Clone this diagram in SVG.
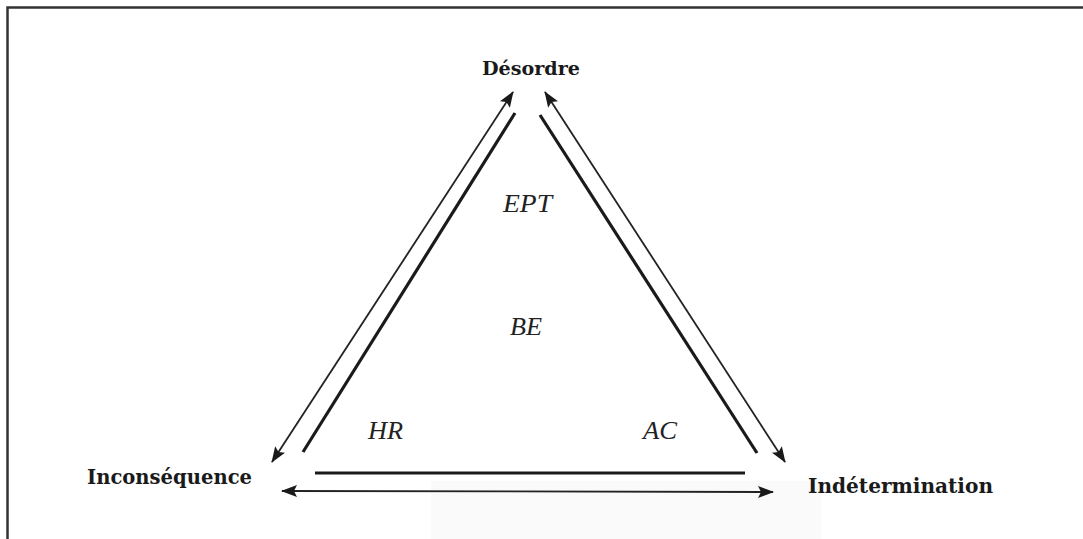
<svg xmlns="http://www.w3.org/2000/svg" width="1083" height="539" viewBox="0 0 1083 539">
<style>
.bold{font-family:"DejaVu Serif","Liberation Serif",serif;font-weight:bold;fill:#1a1a1a}
.ital{font-family:"Liberation Serif","Times New Roman",serif;font-style:italic;fill:#222;font-size:25px}
.thin{stroke:#222;stroke-width:1.8;fill:none}
.thick{stroke:#1a1a1a;stroke-width:3.2;fill:none}
</style>
<defs>
<marker id="ah" viewBox="0 0 16 12" refX="15" refY="6" markerWidth="16" markerHeight="12" markerUnits="userSpaceOnUse" orient="auto-start-reverse">
<path d="M0,0 L16,6 L0,12 L3,6 Z" fill="#1a1a1a"/>
</marker>
</defs>
<rect x="0" y="0" width="1083" height="539" fill="#fff"/>
<rect x="431" y="481" width="390" height="60" fill="#fafafa"/>
<rect x="7.5" y="7.5" width="1090" height="545" fill="none" stroke="#333" stroke-width="2.5"/>
<g id="connectors">
<line class="thin" x1="272" y1="462" x2="513" y2="92" marker-start="url(#ah)" marker-end="url(#ah)"/>
<line class="thick" x1="515" y1="113" x2="303" y2="452"/>
<line class="thin" x1="545" y1="92" x2="785" y2="462" marker-start="url(#ah)" marker-end="url(#ah)"/>
<line class="thick" x1="540" y1="115" x2="757" y2="453"/>
<line class="thick" x1="315" y1="473" x2="745" y2="473"/>
<line class="thin" x1="282" y1="491" x2="773" y2="492" marker-start="url(#ah)" marker-end="url(#ah)"/>
</g>
<g id="node-desordre"><text class="bold" x="482" y="75" font-size="18" textLength="98" lengthAdjust="spacingAndGlyphs">Désordre</text></g>
<g id="node-inconsequence"><text class="bold" x="87" y="484" font-size="20" textLength="165" lengthAdjust="spacingAndGlyphs">Inconséquence</text></g>
<g id="node-indetermination"><text class="bold" x="808" y="493" font-size="21" textLength="185" lengthAdjust="spacingAndGlyphs">Indétermination</text></g>
<g id="label-ept"><text class="ital" x="503" y="212" textLength="49" lengthAdjust="spacingAndGlyphs">EPT</text></g>
<g id="label-be"><text class="ital" x="510" y="335" textLength="32" lengthAdjust="spacingAndGlyphs">BE</text></g>
<g id="label-hr"><text class="ital" x="368" y="439" textLength="35" lengthAdjust="spacingAndGlyphs">HR</text></g>
<g id="label-ac"><text class="ital" x="643" y="439" textLength="34" lengthAdjust="spacingAndGlyphs">AC</text></g>
</svg>
